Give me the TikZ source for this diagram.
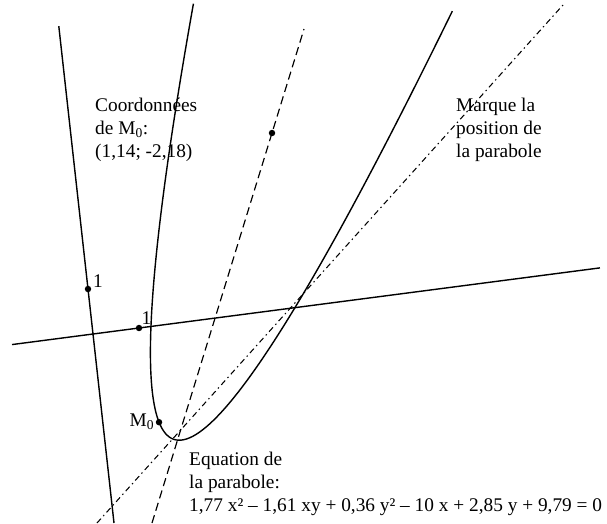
\documentclass[tikz,border=0pt]{standalone}
\usepackage{fontspec}
\setmainfont{Liberation Serif}
\usetikzlibrary{positioning}

\begin{document}
\begin{tikzpicture}[
    x=0.03cm, y=-0.03cm,
    axis/.style={line width=1.2pt},
    curve/.style={line width=1.2pt},
    guide/.style={line width=1pt, dash pattern=on 7pt off 4pt},
    marker/.style={line width=0.9pt, dash pattern=on 5pt off 3pt on 1.2pt off 3pt},
    dot/.style={circle, fill, inner sep=0pt, minimum size=5.5pt},
    lbl/.style={font=\fontsize{16.5}{19.3}\selectfont, align=left, inner sep=0pt},
    declare function={
      tt(\s)=-2.576+\s*\s;
      xx(\s)=(1.61*tt(\s)+10+\s*sqrt(0.0433*(tt(\s)+275.07)))/3.54;
    }]
  \useasboundingbox (0,0) rectangle (607,523);
  % oblique frame: unit on x and on y
  \begin{scope}[shift={(93,334)}, x={(1.38cm,0.18cm)}, y={(-0.15cm,1.35cm)}]
    \coordinate (ybot) at (0,-4.2);
    \coordinate (ytop) at (0,6.84);
    \coordinate (xleft) at (-1.76,0);
    \coordinate (xright) at (11.02,0);
    \node[dot] (yone) at (0,1) {};
    \node[dot] (xone) at (1,0) {};
    \node[dot] (m0) at ({xx(-0.675)},{tt(-0.675)}) {};
    \draw[axis] (ybot) -- (ytop);
    \draw[axis] (xleft) -- (xright);
    \draw[curve] plot[domain=-3.086:2.937, samples=121, smooth, variable=\s]
      ({xx(\s)},{tt(\s)});
  \end{scope}
  % dashed lines
  \coordinate (ga) at (152,523);
  \coordinate (gb) at (304,29);
  \coordinate (pa) at (97,523);
  \coordinate (pb) at (563,5);
  \node[dot] (gp) at (272,133) {};
  \draw[guide] (ga) -- (gb);
  \draw[marker] (pa) -- (pb);
  % labels
  \node[lbl, above right=-1pt and 2pt of yone] (ylab) {1};
  \node[lbl, above right=1pt and 0pt of xone] (xlab) {1};
  \node[lbl, left=1pt of m0] (mlab) {M\textsubscript{0}};
  \node[lbl, anchor=base west] (coord) at (95,157)
       {Coordonnées\\de M\textsubscript{0}:\\(1,14; -2,18)};
  \node[lbl, anchor=base west] (pos) at (456,157)
       {Marque la\\position de\\la parabole};
  \node[lbl, anchor=base west] (eqn) at (189,511)
       {Equation de\\la parabole:\\1,77 x² – 1,61 xy + 0,36 y² – 10 x + 2,85 y + 9,79 = 0};
\end{tikzpicture}
\end{document}
